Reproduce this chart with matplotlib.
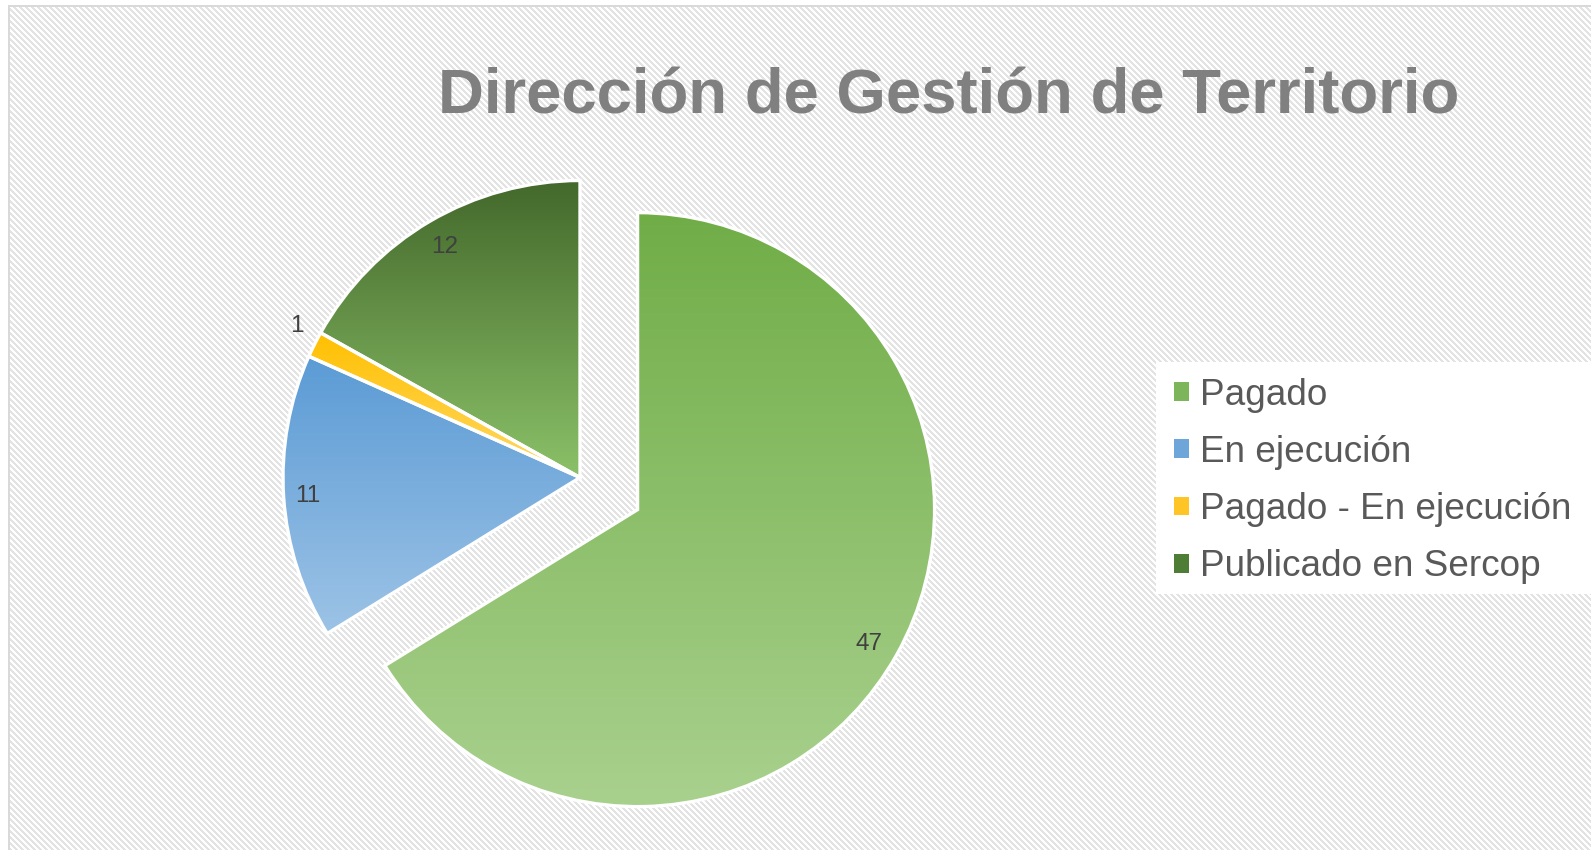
import numpy as np
import matplotlib
matplotlib.use("Agg")
import matplotlib.pyplot as plt
from matplotlib.colors import LinearSegmentedColormap
from matplotlib.patches import Patch, Rectangle

# ---------------- data ----------------
title = "Dirección de Gestión de Territorio"
categories = ["Pagado", "En ejecución", "Pagado - En ejecución", "Publicado en Sercop"]
values = [47, 11, 1, 12]

# ---------------- styles ----------------
grad_top = ["#70AD47", "#5B9BD5", "#FFC000", "#43682B"]
grad_bottom = ["#A9D18E", "#9DC3E6", "#FFD966", "#8BC168"]
legend_colors = ["#7DB65A", "#6FA6DA", "#FFC526", "#4E7D35"]
explode = [0.222, 0, 0, 0]
label_dist = [0.90, 0.92, 1.08, 0.90]
label_shift_deg = [-1.0, 0.0, -1.5, 0.0]

W, H = 1591, 850
PX_R = 297.0           # pie radius in pixels
CX, CY = 580.0, 477.5  # pie centre (pixels, from top-left)

fig = plt.figure(figsize=(W / 100, H / 100), dpi=100)
fig.patch.set_facecolor("white")

# hatched background
yy, xx = np.mgrid[0:H, 0:W]
bg = np.full((H, W, 3), 1.0)
stripe = ((xx - yy) % 6) < 3
bg[stripe] = 0xE3 / 255.0
outside = (xx < 8) | (yy < 5)
bg[outside] = 1.0
border = ((xx >= 8) & (xx <= 9) & (yy >= 5)) | ((yy >= 5) & (yy <= 6) & (xx >= 8))
bg[border] = 0xD9 / 255.0
fig.figimage(bg, xo=0, yo=0, origin="upper", zorder=-5)

# legend box
fig.patches.append(Rectangle((1156 / W, 1 - 594 / H), (W - 1156) / W, (594 - 362) / H,
                             transform=fig.transFigure, facecolor="white",
                             edgecolor="none", zorder=-1))

ax = fig.add_axes([0, 0, 1, 1])
ax.set_zorder(2)
ax.set_facecolor("none")
ax.patch.set_visible(False)
ax.axis("off")

wedges, _ = ax.pie(values, startangle=90, counterclock=False, explode=explode,
                   radius=1.0, center=(0, 0),
                   colors=legend_colors,
                   wedgeprops=dict(edgecolor="white", linewidth=2.4))

ax.set_xlim(-CX / PX_R, (W - CX) / PX_R)
ax.set_ylim(-(H - CY) / PX_R, CY / PX_R)
ax.set_aspect("auto")

for w, ct, cb, v, d, sh in zip(wedges, grad_top, grad_bottom, values, label_dist,
                               label_shift_deg):
    ext = w.get_path().get_extents()
    cmap = LinearSegmentedColormap.from_list("g", [ct, cb])
    grad = np.linspace(0, 1, 256).reshape(-1, 1)
    im = ax.imshow(grad, cmap=cmap, extent=(ext.x0, ext.x1, ext.y0, ext.y1),
                   origin="upper", aspect="auto", zorder=1, interpolation="bilinear")
    im.set_clip_path(w)
    w.set_facecolor("none")
    w.set_zorder(2)
    mid = np.deg2rad((w.theta1 + w.theta2) / 2 + sh)
    cx, cy = w.center
    ax.text(cx + d * w.r * np.cos(mid), cy + d * w.r * np.sin(mid), str(v),
            ha="center", va="center", fontsize=17.5, color="#404040",
            family="Liberation Sans", zorder=3)

ax.set_xlim(-CX / PX_R, (W - CX) / PX_R)
ax.set_ylim(-(H - CY) / PX_R, CY / PX_R)
ax.set_aspect("auto")

# title
fig.text(438 / W, 1 - 114 / H, title, ha="left", va="baseline",
         fontsize=45.7, fontweight="bold", color="#808080", family="Liberation Sans")

handles = [Patch(facecolor=c, edgecolor="none") for c in legend_colors]
leg = fig.legend(handles, categories, loc="upper left",
                 bbox_to_anchor=(1148 / W, 1 - 352 / H),
                 frameon=False, handlelength=0.41, handleheight=0.41,
                 handletextpad=0.30, labelspacing=0.60, borderpad=0.2,
                 prop=dict(family="Liberation Sans", size=26.6))
leg.set_zorder(5)
for t in leg.get_texts():
    t.set_color("#595959")

fig.savefig("out.png", dpi=100)
